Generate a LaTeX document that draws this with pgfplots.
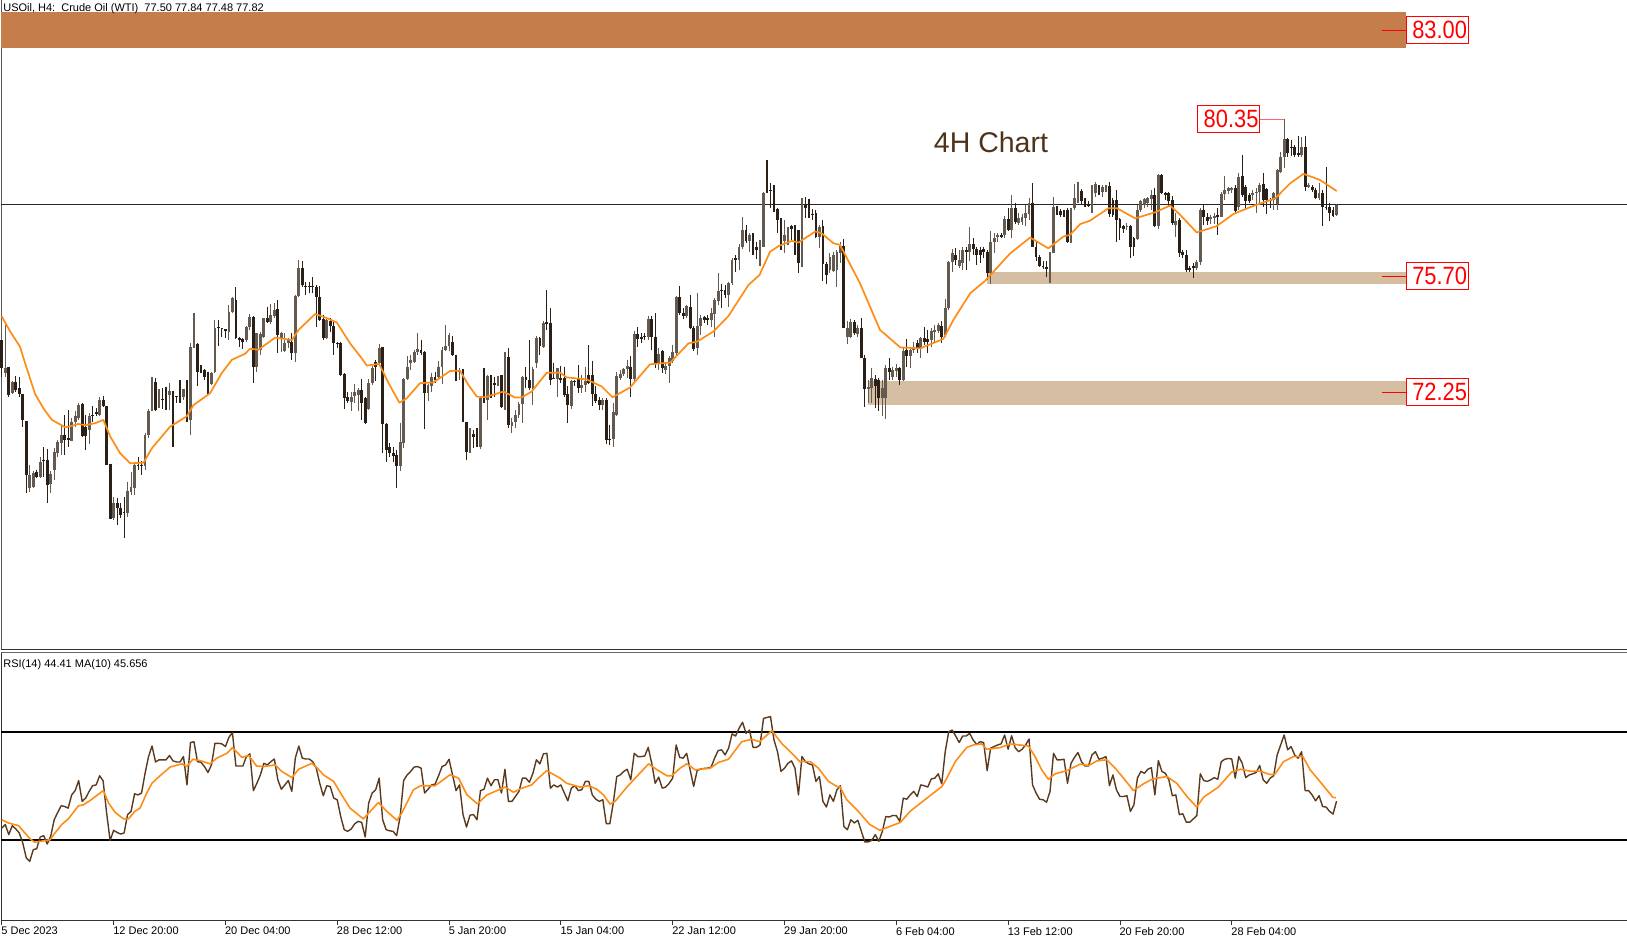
\documentclass[border=0pt]{standalone}
\usepackage{pgfplots}
\usepackage{pgfplotstable}
\usepackage{fontspec}
\setmainfont{Liberation Sans}
\pgfplotsset{compat=1.18}
\definecolor{upc}{HTML}{635B51}
\definecolor{dnc}{HTML}{2A2018}
\definecolor{bandA}{HTML}{C47D4B}
\definecolor{bandB}{HTML}{D6BEA3}
\definecolor{ema}{HTML}{FF8C14}
\definecolor{rsic}{HTML}{5A3A1E}
\definecolor{ttl}{HTML}{4E3319}
\pgfplotstableread{
o h l c
73.80 73.80 72.71 72.96
72.81 74.25 72.71 72.96
72.99 72.99 72.12 72.17
72.24 72.57 72.20 72.54
72.54 72.73 72.27 72.32
72.37 72.71 72.12 72.19
72.19 72.19 71.21 71.43
71.40 71.40 69.25 69.80
69.40 70.10 69.30 69.80
69.45 69.90 69.40 69.85
69.88 69.95 69.70 69.73
69.73 70.34 69.70 70.17
70.25 70.62 69.73 70.20
70.25 70.56 68.96 69.50
69.52 69.90 69.25 69.82
69.95 70.59 69.65 70.47
70.44 70.84 70.34 70.77
70.74 71.28 70.39 70.98
70.98 71.58 70.39 70.84
70.89 71.73 70.62 70.84
70.81 71.48 70.79 71.38
71.38 71.68 71.23 71.53
71.48 71.92 71.43 71.87
71.90 71.92 70.93 70.95
71.21 71.58 70.54 70.95
71.13 71.63 70.72 71.53
71.58 71.84 71.38 71.53
71.65 71.78 71.53 71.60
71.58 72.10 71.53 72.02
72.02 72.15 71.82 71.85
71.85 71.85 70.08 70.08
70.13 70.13 68.48 68.48
68.51 69.14 68.46 68.96
68.96 69.11 68.31 68.81
68.81 68.96 68.51 68.61
68.69 69.14 67.92 68.66
68.68 69.60 68.56 69.33
69.30 69.87 69.20 69.45
69.40 70.15 69.20 70.10
70.10 70.34 69.95 70.05
70.10 70.20 69.78 70.05
70.05 71.05 69.93 70.98
70.98 71.75 70.90 71.70
71.70 72.70 71.68 72.55
72.55 72.67 71.68 71.73
71.92 72.35 71.78 72.02
72.05 72.37 71.75 72.02
72.07 72.40 71.73 72.02
72.17 72.52 71.73 72.30
72.30 72.30 70.62 72.15
72.15 72.15 71.92 72.12
72.14 72.62 71.92 72.10
72.10 72.35 72.02 72.35
72.34 72.62 71.38 71.43
71.43 73.70 70.98 73.60
73.60 74.61 73.55 73.67
73.67 73.70 72.42 72.86
72.93 73.06 72.81 72.89
72.91 72.93 72.61 72.69
72.73 72.86 72.17 72.50
72.50 72.86 72.47 72.83
72.86 74.40 72.81 74.15
74.18 74.40 73.62 74.15
74.15 74.15 73.90 74.12
74.12 74.12 73.85 74.08
74.05 74.84 73.80 74.64
74.64 75.09 74.59 75.04
74.99 75.37 73.82 73.85
73.85 73.90 73.60 73.80
73.82 73.85 73.53 73.75
73.80 74.22 73.75 74.18
74.18 74.58 74.10 74.48
74.48 74.50 72.52 73.01
73.01 74.00 72.86 74.00
73.50 74.05 73.36 73.98
73.90 74.45 73.85 74.45
74.45 74.79 74.30 74.32
74.32 74.86 74.28 74.55
74.52 74.89 74.45 74.69
74.71 74.99 73.41 73.95
73.82 74.05 73.43 74.00
73.48 74.00 73.43 73.72
73.70 73.85 73.55 73.80
73.75 74.00 73.21 73.41
73.41 75.14 73.16 75.11
75.11 76.18 75.09 75.93
75.93 76.13 75.38 75.43
75.40 75.53 75.14 75.36
75.41 75.53 75.19 75.36
75.41 75.66 75.19 75.36
75.36 75.43 74.18 75.07
75.07 75.41 74.35 74.40
74.42 74.55 73.80 73.85
73.85 74.45 73.82 74.38
74.37 74.45 74.05 74.22
74.22 74.40 73.36 73.72
73.72 73.75 73.55 73.67
73.72 73.75 72.73 72.76
72.78 72.81 71.75 72.09
72.10 72.27 71.92 71.99
71.97 72.27 71.68 72.12
72.14 72.50 71.92 72.27
72.17 72.37 71.68 72.32
72.32 72.64 71.43 71.92
72.07 72.12 71.31 71.35
71.75 72.64 71.73 72.52
72.52 73.03 72.47 72.98
73.16 73.21 72.57 72.99
73.11 73.68 73.06 73.55
73.58 73.60 70.44 71.31
71.31 71.33 70.17 70.54
70.62 70.74 70.34 70.44
70.44 70.62 70.19 70.36
70.39 70.54 69.40 70.05
70.05 71.33 69.90 70.77
70.74 72.67 70.59 72.63
72.63 73.31 72.60 73.01
73.11 73.36 72.91 73.21
73.16 73.50 73.11 73.45
73.43 74.02 73.36 73.53
73.51 73.80 73.36 73.41
73.43 73.46 71.15 72.24
72.24 72.50 72.00 72.47
72.42 72.81 72.27 72.69
72.71 72.86 72.52 72.61
72.69 73.19 72.61 73.01
73.01 73.60 72.50 73.51
73.51 74.25 73.46 73.63
73.63 74.00 73.46 73.95
73.73 73.92 73.31 73.36
73.34 73.36 72.57 72.67
72.86 72.96 72.61 72.91
72.91 72.93 71.36 71.38
71.38 71.38 70.24 70.49
70.49 71.18 70.44 70.98
71.00 71.13 70.59 70.93
71.00 71.18 70.62 70.69
70.62 72.12 70.56 72.07
72.07 72.96 71.92 72.02
72.02 72.76 71.43 72.72
72.72 72.76 72.07 72.22
72.52 72.71 72.12 72.47
72.50 72.74 72.42 72.64
72.76 72.76 71.78 71.82
71.82 73.43 71.73 73.29
73.29 73.56 71.18 71.28
71.25 71.48 71.05 71.38
71.38 71.73 71.18 71.58
71.58 71.97 71.48 71.91
71.91 72.74 71.35 72.69
72.71 72.99 72.37 72.61
72.60 73.80 72.32 72.37
72.37 73.01 71.87 72.93
73.11 73.92 72.96 73.87
73.87 73.90 73.36 73.62
73.60 74.35 73.55 74.30
74.32 75.29 74.10 74.28
74.30 74.74 72.47 72.62
72.67 73.13 72.63 72.64
72.64 72.96 72.12 72.96
72.67 73.03 72.52 72.62
72.67 73.01 72.12 72.17
72.20 72.42 71.35 71.87
71.85 72.62 71.75 72.57
72.57 72.62 72.42 72.54
72.67 73.06 72.22 72.37
72.37 72.76 72.24 72.47
72.47 72.99 72.27 72.57
72.76 73.65 72.50 72.52
72.76 73.19 71.84 72.20
72.20 72.42 71.92 72.00
72.02 72.12 71.73 71.87
71.87 72.07 71.73 72.02
72.02 72.07 70.72 70.84
70.87 71.28 70.69 70.84
70.87 71.92 70.62 71.65
71.58 72.86 71.53 72.72
72.67 72.91 72.61 72.79
72.78 72.96 72.72 72.93
72.93 73.21 72.67 73.03
73.01 73.31 72.12 72.64
72.64 74.08 72.57 73.98
73.98 74.18 73.60 73.82
73.90 74.00 73.70 73.83
73.92 74.00 73.80 73.90
73.90 74.52 73.80 74.42
74.42 74.52 73.51 73.90
73.90 74.59 72.96 73.13
73.13 73.56 72.91 73.39
73.46 73.51 72.81 72.96
72.91 73.16 72.79 73.03
73.03 73.33 72.52 73.26
73.19 73.65 73.13 73.43
73.41 75.11 73.36 75.07
75.07 75.39 74.54 74.59
74.61 74.74 74.41 74.52
74.50 74.84 74.45 74.81
74.79 75.14 74.12 74.15
74.17 74.22 73.46 73.53
73.56 75.19 73.36 74.22
74.22 74.55 73.95 74.45
74.47 74.52 74.30 74.40
74.45 74.55 74.25 74.40
74.40 74.74 74.20 74.61
74.57 75.04 73.90 74.99
74.97 75.78 74.84 75.24
75.29 75.47 74.74 75.24
75.29 75.44 75.04 75.14
75.14 75.53 74.79 75.48
75.48 76.23 75.43 76.18
76.23 76.32 75.83 76.16
76.16 76.65 75.88 76.55
76.55 77.44 76.51 77.05
77.07 77.21 76.67 76.74
76.74 76.97 76.42 76.92
76.90 76.97 76.32 76.49
76.55 76.72 76.20 76.47
76.55 76.77 76.00 76.59
76.57 78.20 76.55 78.17
78.75 79.14 78.17 78.20
78.25 78.45 77.71 78.22
78.25 78.40 77.61 77.66
77.68 77.71 76.97 77.36
77.38 77.41 76.47 76.74
76.75 77.36 76.37 76.92
76.87 77.15 76.62 77.12
77.19 77.21 76.77 77.09
77.19 77.21 76.32 76.77
77.05 77.07 75.80 76.08
76.03 78.01 75.98 77.81
77.84 78.03 77.41 77.71
77.76 77.98 77.41 77.48
77.54 77.68 77.36 77.51
77.56 77.66 76.82 76.87
76.87 77.21 76.52 77.15
77.19 77.36 75.56 76.06
76.06 76.10 75.46 75.73
75.88 76.37 75.78 76.27
75.86 76.42 75.83 76.32
75.88 76.47 75.36 76.42
76.37 76.72 76.08 76.59
76.59 76.81 74.15 74.15
73.88 74.35 73.68 74.15
73.90 74.43 73.85 74.32
74.32 74.40 73.95 74.00
73.98 74.25 73.90 74.17
74.17 74.45 73.26 73.26
73.26 73.36 71.82 72.34
72.34 72.62 71.92 72.40
72.37 72.96 71.92 72.67
72.64 72.76 71.77 72.42
72.62 72.67 71.68 72.07
72.07 72.62 71.53 72.37
72.07 73.06 71.45 72.96
72.96 73.26 72.62 72.86
72.71 73.01 72.62 72.91
72.89 73.09 72.71 72.96
72.96 73.01 72.47 72.60
72.60 73.56 72.57 73.46
73.51 73.82 73.01 73.31
73.31 73.59 72.96 73.51
73.51 73.75 73.41 73.60
73.70 73.80 73.41 73.55
73.55 73.90 73.26 73.85
73.85 74.20 73.65 73.75
73.83 74.10 73.41 73.73
73.80 74.15 73.60 74.08
74.05 74.25 73.70 74.10
74.08 74.30 74.00 74.25
74.22 74.35 73.72 73.90
73.95 75.01 73.90 74.76
74.74 76.13 74.69 76.10
76.10 76.49 75.83 76.39
76.32 76.52 76.03 76.16
75.99 76.47 75.93 76.18
76.08 76.55 75.88 76.47
76.47 76.57 75.88 76.42
76.42 77.14 76.13 76.65
76.65 76.82 76.32 76.49
76.49 76.57 76.03 76.32
76.47 76.57 76.08 76.32
76.49 76.57 76.23 76.42
76.42 76.47 75.58 75.80
75.80 77.02 75.46 76.72
76.72 76.97 76.37 76.82
76.87 76.97 76.72 76.92
76.92 76.97 76.82 76.87
76.92 77.48 76.82 77.38
77.38 77.71 77.02 77.07
77.07 78.10 76.82 77.73
77.73 77.86 77.24 77.31
77.28 77.56 77.21 77.41
77.31 77.54 77.21 77.44
77.41 77.81 77.18 77.56
77.54 78.01 77.36 77.86
77.88 78.45 76.57 76.57
76.57 76.72 76.13 76.27
76.27 76.32 75.98 76.00
76.00 76.13 75.90 75.96
75.98 76.15 75.68 75.92
75.96 76.42 75.48 76.37
76.39 78.05 76.37 77.74
77.74 77.78 77.51 77.56
77.64 77.68 77.46 77.51
77.61 77.66 77.44 77.46
77.66 77.71 76.67 76.72
76.69 77.71 76.67 77.71
77.71 78.43 77.66 78.01
77.98 78.50 77.86 78.25
78.23 78.27 77.84 77.91
77.91 78.00 77.74 77.78
77.84 77.91 77.74 77.78
77.78 78.40 77.56 78.17
78.17 78.50 78.05 78.43
78.37 78.40 78.10 78.17
78.20 78.40 78.05 78.33
78.23 78.40 78.20 78.37
78.37 78.50 77.46 77.54
77.96 78.00 77.46 77.51
77.96 78.25 76.72 77.36
77.38 77.41 76.77 77.12
77.17 77.21 76.97 77.09
77.15 77.28 77.05 77.19
77.17 77.21 76.23 76.57
76.82 76.87 76.28 76.57
76.79 77.81 76.77 77.66
77.66 77.96 77.61 77.91
77.81 78.00 77.71 77.98
77.86 78.05 77.76 78.00
77.99 78.25 77.66 78.10
78.10 78.30 77.15 77.18
77.17 78.73 77.09 78.70
78.70 78.73 78.13 78.17
78.17 78.20 77.96 78.10
78.15 78.20 77.76 77.91
77.94 78.06 77.21 77.26
77.22 77.56 76.87 77.34
77.36 77.41 76.27 76.39
76.42 76.47 76.23 76.32
76.32 76.47 75.83 75.88
75.95 76.00 75.83 75.88
76.00 76.08 75.63 75.93
75.93 76.18 75.88 76.11
76.10 77.71 76.03 77.66
77.66 77.81 77.21 77.44
77.46 77.56 77.21 77.34
77.38 77.51 77.24 77.44
77.41 77.56 77.24 77.48
77.51 77.71 76.92 77.44
77.46 78.20 77.44 78.13
78.13 78.67 77.96 78.25
78.23 78.33 78.13 78.30
78.25 78.33 78.15 78.30
78.30 78.40 77.56 77.64
77.74 78.77 77.66 78.65
78.67 79.29 78.05 78.10
78.33 78.40 77.66 77.91
78.10 78.15 77.86 77.91
78.10 78.25 77.96 78.15
78.15 78.30 77.56 78.20
78.20 78.47 77.86 78.40
78.42 78.77 77.76 77.96
78.27 78.30 77.54 77.96
77.96 78.00 77.71 77.91
77.96 78.20 77.66 78.15
77.84 78.87 77.66 78.83
78.80 79.39 78.77 79.24
79.24 80.35 78.90 79.76
79.76 79.79 79.24 79.34
79.54 79.74 79.26 79.49
79.54 79.59 79.22 79.29
79.34 79.84 79.22 79.29
79.29 79.82 79.24 79.54
79.54 79.84 78.23 78.33
78.33 78.45 78.30 78.40
78.33 78.40 78.20 78.25
78.25 78.30 77.98 78.00
78.00 78.47 77.96 78.17
78.17 78.25 77.18 77.74
77.76 78.92 77.66 77.74
77.74 77.86 77.34 77.58
77.66 77.74 77.44 77.48
77.50 77.84 77.48 77.82
}\candles
\pgfplotsset{
  wick/.style={draw=none,no marks,forget plot,restrict y to domain=60:90,
    error bars/.cd,y dir=minus,y explicit,error mark=none,
    error bar style={solid,line width=1.1pt,color=#1,line cap=butt}},
  body/.style={draw=none,no marks,forget plot,restrict y to domain=60:90,
    error bars/.cd,y dir=minus,y explicit,error mark=none,
    error bar style={solid,line width=2.8pt,color=#1,line cap=butt}},
  redtick/.style={draw=red,line width=0.8pt,forget plot,no marks},
}
\newcommand{\lbl}[1]{\hspace*{5pt}\raisebox{-1.7pt}{\scalebox{0.875}[1]{\fontsize{25}{25}\selectfont #1}}}
\tikzset{
  lab/.style={draw=red,line width=0.8pt,fill=white,text=red,inner sep=0pt,
    minimum width=62pt,minimum height=27pt},
}
\begin{document}
\begin{tikzpicture}[x=1pt,y=1pt]
\path[use as bounding box] (0,0) rectangle (1627,936);
\begin{axis}[name=main,at={(1.5pt,286pt)},anchor=south west,scale only axis,
  width=1625.5pt,height=650pt,
  xmin=-0.086,xmax=465.14,ymin=64.6,ymax=83.89,
  clip=false,
  axis x line=none,axis y line=left,
  axis line style={-,draw=black!65,line width=1pt},
  xtick=\empty,ytick=\empty,
]
% zones
\addplot[fill=bandA,draw=none,forget plot] coordinates {(-0.086,82.47)(401.9,82.47)(401.9,83.53)(-0.086,83.53)} --cycle;
\addplot[fill=bandB,draw=none,forget plot] coordinates {(282,75.45)(401.9,75.45)(401.9,75.83)(282,75.83)} --cycle;
\addplot[fill=bandB,draw=none,forget plot] coordinates {(247.9,71.87)(401.9,71.87)(401.9,72.59)(247.9,72.59)} --cycle;
% current price
\addplot[draw=black!85,line width=1pt,no marks,forget plot] coordinates {(-0.086,77.82)(465.14,77.82)};
% wicks: down then up
\addplot[wick=dnc] table[x expr=\coordindex,y expr={\thisrow{c}<\thisrow{o} ? \thisrow{h} : -999},y error minus expr={\thisrow{h}-\thisrow{l}}] {\candles};
\addplot[wick=upc] table[x expr=\coordindex,y expr={\thisrow{c}>=\thisrow{o} ? \thisrow{h} : -999},y error minus expr={\thisrow{h}-\thisrow{l}}] {\candles};
\addplot[body=upc] table[x expr=\coordindex,y expr={\thisrow{c}>=\thisrow{o} ? \thisrow{c} : -999},y error minus expr={max(\thisrow{c}-\thisrow{o},0.03)}] {\candles};
\addplot[body=dnc] table[x expr=\coordindex,y expr={\thisrow{c}<\thisrow{o} ? \thisrow{o} : -999},y error minus expr={max(\thisrow{o}-\thisrow{c},0.03)}] {\candles};
% EMA
\addplot[ema,line width=1.7pt,no marks,line join=round,forget plot,x filter/.expression={x*1.0017}] coordinates {
(0,74.50)(2.4,74.05)(5.2,73.60)(6.7,73.10)(9.5,72.20)(11.9,71.77)(14.3,71.43)(18.1,71.21)(20,71.25)(21.9,71.31)(23.8,71.27)(26.7,71.33)(29,71.43)(31,70.93)(33.8,70.44)(36.7,70.14)(40.5,70.16)(42.9,70.59)(48.1,71.23)(52.8,71.53)(54.8,71.87)(59.5,72.22)(62.8,72.81)(65.7,73.21)(69.5,73.39)(70.9,73.54)(73.3,73.51)(78.1,73.87)(82.9,73.80)(84.8,74.10)(89.5,74.57)(92.4,74.47)(95.7,74.32)(99.5,73.70)(102.8,73.26)(104.3,73.04)(107.8,73.09)(110.5,72.52)(113.6,71.94)(115.7,72.07)(119.5,72.52)(123.3,72.54)(128.1,72.88)(130.9,72.89)(133.3,72.47)(135.7,72.12)(138.1,72.10)(143.3,72.27)(146.7,72.09)(148.6,72.10)(151.4,72.27)(155.7,72.83)(159.5,72.83)(161.4,72.69)(167.1,72.63)(171.4,72.42)(174.5,72.10)(179.5,72.39)(185.2,73.08)(191,73.13)(196.2,73.70)(198.6,73.75)(203.3,74.05)(207.6,74.51)(213.3,75.43)(216.5,75.73)(219.5,76.42)(222,76.59)(225.7,76.74)(227.6,76.69)(232.4,77.02)(234.2,76.97)(237.6,76.67)(239.5,76.62)(245.2,75.48)(250.9,74.10)(256.7,73.58)(262.4,73.55)(269,73.83)(271.9,74.40)(276.7,75.19)(280.9,75.55)(288.1,76.37)(293.8,76.84)(299,76.52)(303.3,76.87)(305.2,76.92)(308.1,77.24)(310.9,77.34)(316.2,77.71)(318.6,77.71)(323.8,77.41)(329.5,77.59)(333.8,77.79)(336.7,77.51)(341.4,76.99)(347.1,77.18)(351.9,77.54)(357.6,77.78)(363.8,78.00)(368.1,78.45)(371.9,78.73)(376.6,78.55)(381.4,78.22)};
% level ticks
\addplot[redtick] coordinates {(395,83)(401.9,83)};
\addplot[redtick] coordinates {(395,75.7)(401.9,75.7)};
\addplot[redtick] coordinates {(395,72.25)(401.9,72.25)};
\addplot[draw=red!60,line width=1pt,forget plot,no marks] coordinates {(360.1,80.35)(367,80.35)};
\node[lab] at (axis cs:410.8,83) {\lbl{83.00}};
\node[lab] at (axis cs:410.8,75.7) {\lbl{75.70}};
\node[lab] at (axis cs:410.8,72.25) {\lbl{72.25}};
\node[lab] at (axis cs:351.1,80.35) {\lbl{80.35}};
\node[text=ttl,font=\fontsize{28.5}{29}\selectfont] at (axis cs:283.1,79.68) {4H Chart};
\node[anchor=west,inner sep=0pt,font=\fontsize{11}{11}\selectfont] at (axis description cs:0.001,0.9865) {USOil, H4:\ \ Crude Oil (WTI)\ \ 77.50 77.84 77.48 77.82};
\draw[draw=black!80,line width=1pt] (rel axis cs:0,0) -- (rel axis cs:1,0);
\end{axis}
\begin{axis}[name=rsi,at={(1.5pt,15pt)},anchor=south west,scale only axis,
  width=1625.5pt,height=268pt,
  xmin=-0.086,xmax=465.14,ymin=0,ymax=99.26,
  clip=false,
  axis x line=bottom,axis y line=left,
  axis line style={-,draw=black!80,line width=1pt},
  ytick=\empty,
  xtick={0,32,64,96,128,160,192,224,256,288,320,352},
  xticklabels={5 Dec 2023,12 Dec 20:00,20 Dec 04:00,28 Dec 12:00,5 Jan 20:00,15 Jan 04:00,22 Jan 12:00,29 Jan 20:00,6 Feb 04:00,13 Feb 12:00,20 Feb 20:00,28 Feb 04:00},
  tick align=outside,major tick length=4pt,
  tick style={draw=black!80,line width=0.8pt},
  xticklabel style={anchor=north west,inner sep=0pt,yshift=-2pt,xshift=-0.5pt,font=\fontsize{11}{11}\selectfont},
]
\addplot[black,line width=2pt,no marks,forget plot] coordinates {(-0.086,70)(465.14,70)};
\addplot[black,line width=2pt,no marks,forget plot] coordinates {(-0.086,30)(465.14,30)};
\addplot[rsic,line width=1.4pt,no marks,line join=round,forget plot] table[x expr=\coordindex,y index=0,header=false] {
34.4
35.7
32.0
35.3
34.1
32.6
28.9
23.4
22.1
26.4
26.8
31.1
31.6
28.5
31.4
37.5
40.2
42.7
42.4
41.8
46.7
48.3
52.0
44.3
45.5
48.0
50.1
50.4
53.8
51.9
40.0
29.8
33.6
32.8
32.2
32.6
39.4
40.6
47.1
46.7
47.4
54.7
60.9
64.8
58.9
59.7
59.7
59.7
61.3
59.3
58.9
58.9
60.9
50.4
66.1
66.4
59.0
58.8
57.2
55.0
57.8
65.8
65.8
65.6
64.6
68.0
69.8
57.4
57.4
57.4
60.9
61.9
48.3
51.0
54.1
58.4
57.8
59.0
60.0
52.3
48.8
50.4
52.0
48.0
60.3
64.8
60.3
60.0
60.0
59.0
56.6
51.0
46.4
50.1
49.8
45.5
44.9
38.7
33.8
33.2
34.1
36.0
36.9
36.5
31.1
43.7
47.4
48.6
52.9
37.5
33.8
33.4
33.2
31.6
38.7
52.0
54.1
55.4
57.0
57.2
56.6
47.4
48.8
50.4
50.7
53.8
57.2
57.8
59.9
54.1
48.3
50.4
39.4
34.8
39.2
39.4
37.5
48.3
48.8
52.9
50.1
52.3
52.3
47.4
56.2
44.3
44.3
46.1
48.0
52.9
52.9
51.4
54.7
59.7
58.2
61.9
62.1
49.2
50.4
49.6
50.4
47.4
44.5
49.2
50.1
48.3
48.6
51.7
51.7
46.7
45.1
44.3
44.9
36.0
36.0
43.7
53.5
54.1
55.4
56.2
52.3
62.1
60.9
60.9
61.1
64.3
58.4
51.0
53.3
49.2
49.6
51.0
52.9
65.2
60.6
60.3
62.1
56.0
49.8
55.7
56.3
56.5
56.6
57.0
60.3
63.1
63.4
61.5
64.0
69.3
68.5
71.4
73.6
69.5
70.7
64.3
64.3
65.2
75.0
75.4
75.7
67.0
62.7
55.4
56.6
58.4
59.3
56.6
46.7
60.9
59.0
58.2
57.8
51.7
53.5
44.3
42.2
46.7
44.3
48.6
50.1
35.0
33.8
37.5
36.3
37.3
33.2
29.3
29.3
29.9
32.0
29.5
33.2
38.7
38.5
39.1
39.0
36.9
45.5
45.1
46.7
48.0
46.1
50.4
50.1
49.6
52.6
52.9
54.5
50.8
62.7
70.1
70.7
68.5
66.1
68.5
68.5
69.5
67.0
65.4
66.4
66.1
55.7
64.0
64.6
65.2
65.6
68.9
63.6
68.6
64.2
62.7
63.6
65.2
67.4
50.4
47.4
45.1
44.9
44.0
48.0
62.1
59.7
59.7
59.9
51.0
58.4
60.6
62.4
59.0
57.4
57.4
61.5
62.7
59.9
60.3
60.9
50.1
54.1
48.6
46.1
46.1
46.4
40.6
43.0
52.9
55.4
54.7
56.2
56.8
46.7
59.4
55.4
54.7
52.3
46.4
46.7
39.4
39.7
36.6
36.6
37.8
39.0
54.5
52.0
51.7
52.3
53.1
52.5
59.0
59.9
60.2
60.0
52.9
60.9
58.4
53.1
54.1
54.5
55.0
57.6
52.3
51.0
52.9
53.8
61.5
65.2
68.9
63.4
64.6
61.5
60.3
62.7
48.3
48.3
46.7
44.5
46.4
42.4
42.2
40.6
39.6
44.41
};
\addplot[ema,line width=1.6pt,no marks,line join=round,forget plot,x filter/.expression={x*1.0017}] coordinates {
(0,37.5)(1.9,36.3)(4.8,35.3)(6.2,33.2)(8.1,30.4)(9.5,29.1)(11.4,29.6)(13.8,30.1)(15.2,32.6)(17.1,35.7)(19,37.8)(21.9,42.7)(23.3,43.0)(25.2,44.6)(29,48.3)(30.5,43.7)(32.4,40.2)(34.8,37.8)(36.2,37.8)(38,40.6)(39.5,41.8)(41.4,47.4)(42.9,51.0)(45.2,53.8)(48.1,57.0)(51.4,58.2)(52.8,57.2)(54.6,59.9)(56.7,59.4)(59.5,58.2)(61.4,60.3)(64.3,62.1)(65.9,64.2)(68.6,60.6)(70.5,61.3)(72.8,57.4)(74.8,57.2)(78.1,57.8)(80,55.4)(82.9,53.1)(84.8,56.2)(88.6,58.4)(90.5,56.2)(91.9,54.1)(94.8,51.7)(97.1,46.7)(99.5,41.8)(103.3,37.8)(107.6,43.9)(110,40.6)(112.9,37.3)(114.3,40.0)(117.6,48.6)(119.7,50.1)(123.8,50.1)(128.1,54.2)(130.5,52.9)(132.9,46.7)(135.9,43.4)(138.6,46.7)(142.4,48.8)(143.8,49.6)(146.2,47.7)(148.6,49.2)(151.4,50.4)(153.3,52.9)(155.7,55.7)(159.5,52.9)(161.4,51.0)(165.2,49.6)(167.6,50.1)(170,48.8)(171.9,46.7)(173.8,43.3)(175.2,44.3)(178.6,49.6)(181.4,53.5)(184.8,58.2)(187.2,56.0)(190,53.8)(191.4,53.8)(193.8,56.6)(195.7,58.2)(198.1,56.0)(202.4,56.6)(204.7,58.7)(207.6,59.9)(211.4,66.4)(214.3,67.3)(216.5,66.4)(220,70.5)(222.8,65.8)(226.2,61.5)(228,59.0)(231,59.0)(233.3,56.6)(236.2,51.7)(238.6,49.8)(239.5,49.6)(241.4,44.9)(244.3,41.2)(248,35.7)(250.9,33.6)(256.7,36.5)(259.5,40.6)(264.3,45.5)(268.6,49.8)(270,52.9)(272.4,59.0)(275.7,64.3)(277.6,65.2)(280,65.6)(281.4,63.6)(285.2,64.2)(288.1,65.6)(293.3,64.8)(295.2,60.9)(297.1,56.0)(299,52.5)(300.9,54.5)(304.3,55.7)(308.1,58.1)(310.5,57.6)(312.9,59.3)(315.7,59.7)(318.1,56.6)(320.5,52.9)(323.3,48.3)(326.2,50.8)(328.6,52.5)(330,52.9)(332.9,53.5)(335.7,51.0)(338.6,46.1)(341.4,42.2)(343.4,45.9)(347.6,49.6)(351.4,55.2)(353.9,56.2)(356.7,55.5)(359.5,55.5)(362.4,54.2)(363.8,54.5)(366.2,59.0)(369,60.9)(371.7,60.9)(373.8,56.0)(376.2,52.3)(380.3,45.8)(381.2,45.656)};
\draw[draw=black!60,line width=1pt] (rel axis cs:0,1) -- (rel axis cs:1,1);
\node[anchor=west,inner sep=0pt,font=\fontsize{11}{11}\selectfont] at (axis description cs:0.001,0.958) {RSI(14) 44.41 MA(10) 45.656};
\end{axis}
\end{tikzpicture}
\end{document}
